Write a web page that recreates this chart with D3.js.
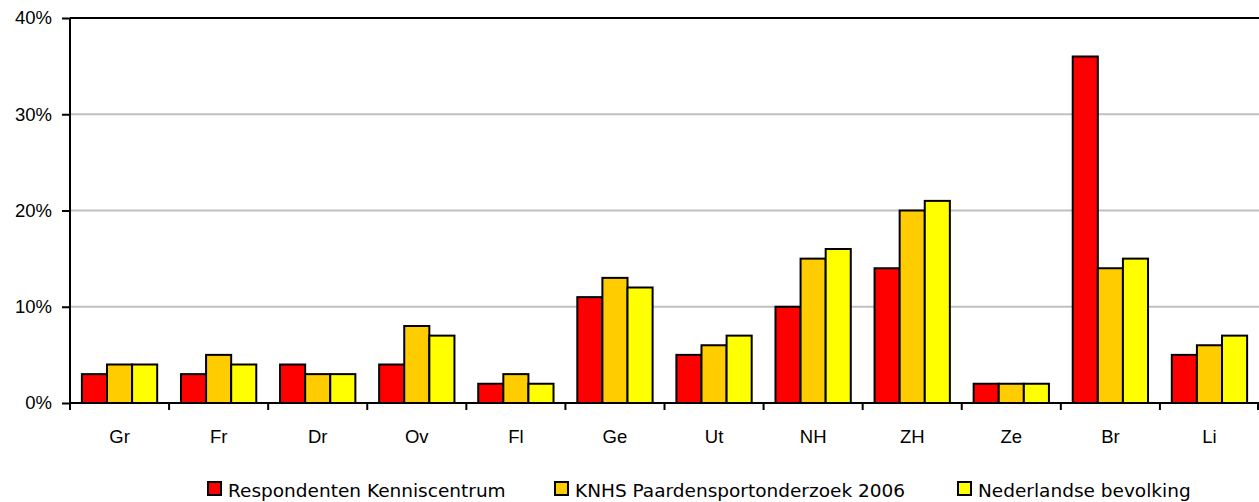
<!DOCTYPE html>
<html><head><meta charset="utf-8">
<script src="https://cdn.jsdelivr.net/npm/d3@7"></script>
<style>
html,body{margin:0;padding:0;background:#fff;}
svg{display:block;font-family:"DejaVu Sans",sans-serif;}
</style></head>
<body><svg id="c" width="1259" height="502"></svg>
<script>
const categories = ["Gr","Fr","Dr","Ov","Fl","Ge","Ut","NH","ZH","Ze","Br","Li"];
const seriesNames = ["Respondenten Kenniscentrum","KNHS Paardensportonderzoek 2006","Nederlandse bevolking"];
const respondenten = [3,3,4,4,2,11,5,10,14,2,36,5];
const knhs = [4,5,3,8,3,13,6,15,20,2,14,6];
const bevolking = [4,4,3,7,2,12,7,16,21,2,15,7];
const yTicks = [0,10,20,30,40];
const colors = ["#ff0000","#ffcc00","#ffff00"];

(function(){
const series = [respondenten, knhs, bevolking];
const svg = d3.select("#c");
const mLeft = 70, mRight = 1259, mTop = 18, mBottom = 403;
const fs = 18.5;

const x = d3.scaleBand().domain(categories).range([mLeft, mRight]).paddingInner(0.24).paddingOuter(0.12);
const x0 = d3.scaleBand().domain(categories).range([mLeft, mRight]);
const xs = d3.scaleBand().domain([0,1,2]).range([0, x.bandwidth()]);
const y = d3.scaleLinear().domain([0,40]).range([mBottom, mTop]);

svg.append("g").selectAll("line").data(yTicks.filter(d=>d>0 && d<40)).join("line")
  .attr("x1", mLeft).attr("x2", mRight).attr("y1", d=>y(d)).attr("y2", d=>y(d))
  .attr("stroke", "#c0c0c0").attr("stroke-width", 2);
svg.append("line").attr("x1", mLeft).attr("x2", mRight).attr("y1", y(40)).attr("y2", y(40))
  .attr("stroke", "#000").attr("stroke-width", 2);

series.forEach((vals, si) => {
  svg.append("g").selectAll("rect").data(categories).join("rect")
    .attr("x", (c) => x(c) + xs(si))
    .attr("width", xs.bandwidth())
    .attr("y", (c,i) => y(vals[i]))
    .attr("height", (c,i) => y(0) - y(vals[i]))
    .attr("fill", colors[si]).attr("stroke", "#000").attr("stroke-width", 2);
});

const yAxis = d3.axisLeft(y).tickValues(yTicks).tickFormat(d => d + "%").tickSize(8).tickPadding(10);
const gy = svg.append("g").attr("transform", `translate(${mLeft},0)`).call(yAxis);
gy.select(".domain").attr("stroke-width", 2).attr("d", `M0,${mTop}V${mBottom}`);
gy.selectAll(".tick line").attr("stroke-width", 2);
gy.selectAll("text").attr("font-size", fs).attr("fill", "#000").attr("font-family", "inherit");

const gx = svg.append("g").attr("transform", `translate(0,${mBottom})`);
gx.append("line").attr("x1", mLeft).attr("x2", mRight).attr("stroke", "#000").attr("stroke-width", 2);
const xb = d3.axisBottom(x0).tickSize(0).tickPadding(0);
const gxa = svg.append("g").attr("transform", `translate(0,${mBottom})`).call(xb);
gxa.select(".domain").remove();
gxa.selectAll("text").attr("font-size", fs).attr("fill", "#000").attr("font-family", "inherit").attr("dy", 0).attr("y", 40);
gx.selectAll("line.bt").data(categories.map((c)=>x0(c)).concat([mRight-1])).join("line").attr("class","bt")
  .attr("x1", d=>d).attr("x2", d=>d).attr("y1", 0).attr("y2", 7).attr("stroke", "#000").attr("stroke-width", 2);

const legX = [207, 554, 957];
const lg = svg.append("g");
seriesNames.forEach((n, i) => {
  lg.append("rect").attr("x", legX[i]+1).attr("y", 482).attr("width", 13).attr("height", 13)
    .attr("fill", colors[i]).attr("stroke", "#000").attr("stroke-width", 2);
  lg.append("text").attr("x", legX[i] + 21).attr("y", 497).attr("font-size", fs).text(n);
});
})();
</script></body></html>
